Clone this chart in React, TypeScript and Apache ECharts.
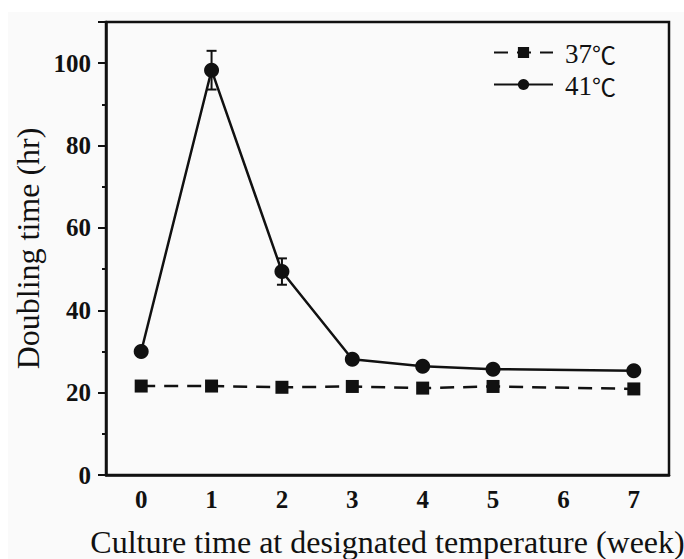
import React, { useEffect, useRef } from "react";
import * as echarts from "echarts";

const weeks = ["0", "1", "2", "3", "4", "5", "6", "7"];
const t37 = [21.6, 21.6, 21.3, 21.5, 21.1, 21.5, null, 20.9];
const t41 = [30.0, 98.3, 49.4, 28.1, 26.4, 25.7, null, 25.3];
const sd41 = [0, 4.7, 3.2, 0, 0, 0, 0, 0];
const yTicks = [0, 20, 40, 60, 80, 100];
const seriesNames = ["37℃", "41℃"];

const FONT = "'Liberation Serif', 'Times New Roman', serif";

export default function App() {
  const ref = useRef<HTMLDivElement>(null);
  useEffect(() => {
    if (!ref.current) return;
    const chart = echarts.init(ref.current, null, { renderer: "svg" });
    const errData: number[][] = [];
    sd41.forEach((sd, i) => {
      const m = t41[i];
      if (sd > 0 && m != null) errData.push([i, m - sd, m + sd]);
    });
    chart.setOption({
      animation: false,
      backgroundColor: "transparent",
      textStyle: { fontFamily: FONT },
      grid: {
        left: 106,
        top: 22,
        right: 15,
        bottom: 84,
        containLabel: false,
        outerBoundsMode: "none",
        show: true,
        borderColor: "#111",
        borderWidth: 2.5,
        backgroundColor: "transparent",
      },
      legend: {
        data: seriesNames,
        orient: "vertical",
        left: 488,
        top: 34,
        itemWidth: 59,
        itemHeight: 14,
        itemGap: 5,
        formatter: () => " ",
        textStyle: { fontSize: 27, lineHeight: 27, color: "#111" },
      },
      graphic: seriesNames.map((name, i) => ({
        type: "text",
        left: 565,
        top: 40 + i * 32,
        style: {
          text: `{n|${name.replace("℃", "")}}{c|℃}`,
          rich: {
            n: { fontFamily: FONT, fontSize: 27, fill: "#111", lineHeight: 27 },
            c: { fontFamily: "'Noto Sans CJK SC'", fontSize: 24, fill: "#111", lineHeight: 27 },
          },
        },
        z: 10,
      })),
      xAxis: [
        {
          type: "category",
          data: weeks,
          boundaryGap: true,
          position: "bottom",
          name: "Culture time at designated temperature (week)",
          nameLocation: "middle",
          nameGap: 51,
          nameMoveOverlap: false,
          nameTextStyle: { fontFamily: FONT, fontSize: 32, color: "#111", lineHeight: 32 },
          axisLine: { lineStyle: { color: "#111", width: 2.5 } },
          axisTick: {
            alignWithLabel: true,
            length: 8,
            lineStyle: { color: "#111", width: 2 },
          },
          axisLabel: {
            fontFamily: FONT,
            fontWeight: "bold",
            fontSize: 25,
            color: "#111",
            margin: 12,
          },
          splitLine: { show: false },
        },
        {
          type: "category",
          data: weeks,
          boundaryGap: true,
          position: "bottom",
          offset: 0,
          axisLine: { show: false },
          axisTick: {
            alignWithLabel: false,
            length: 5,
            lineStyle: { color: "#111", width: 2 },
          },
          axisLabel: { show: false },
          splitLine: { show: false },
        },
      ],
      yAxis: {
        type: "value",
        min: 0,
        max: 110,
        interval: 20,
        name: "Doubling time (hr)",
        nameLocation: "middle",
        nameGap: 62,
        nameMoveOverlap: false,
        nameTextStyle: { fontFamily: FONT, fontSize: 32, color: "#111", lineHeight: 32 },
        axisLine: { show: true, lineStyle: { color: "#111", width: 2.5 } },
        axisTick: { show: true, length: 8, lineStyle: { color: "#111", width: 2 } },
        minorTick: { show: true, splitNumber: 2, length: 4, lineStyle: { color: "#111", width: 2 } },
        axisLabel: {
          fontFamily: FONT,
          fontWeight: "bold",
          fontSize: 25,
          color: "#111",
          margin: 15,
          showMaxLabel: false,
          formatter: (v: number) => (yTicks.includes(v) ? String(v) : ""),
        },
        splitLine: { show: false },
      },
      series: [
        {
          name: seriesNames[0],
          type: "line",
          data: t37,
          connectNulls: true,
          symbol: "rect",
          symbolSize: 13,
          itemStyle: { color: "#111" },
          lineStyle: { color: "#111", width: 2.5, type: [14, 9] },
          z: 3,
        },
        {
          name: seriesNames[1],
          type: "line",
          data: t41,
          connectNulls: true,
          symbol: "circle",
          symbolSize: 15,
          itemStyle: { color: "#111" },
          lineStyle: { color: "#111", width: 2.5 },
          z: 3,
        },
        {
          type: "custom",
          name: "err41",
          data: errData,
          encode: { x: 0, y: [1, 2] },
          z: 4,
          renderItem: (params: any, api: any) => {
            const x = api.value(0);
            const lo = api.coord([x, api.value(1)]);
            const hi = api.coord([x, api.value(2)]);
            const w = 5;
            const st = { stroke: "#111", lineWidth: 2 };
            return {
              type: "group",
              children: [
                { type: "line", shape: { x1: lo[0], y1: lo[1], x2: hi[0], y2: hi[1] }, style: st },
                { type: "line", shape: { x1: hi[0] - w, y1: hi[1], x2: hi[0] + w, y2: hi[1] }, style: st },
                { type: "line", shape: { x1: lo[0] - w, y1: lo[1], x2: lo[0] + w, y2: lo[1] }, style: st },
              ],
            };
          },
        },
      ],
    });
    return () => chart.dispose();
  }, []);
  return (
    <div style={{ position: "absolute", left: 0, top: 0, width: 684, height: 559, background: "#fff" }}>
      <div style={{ position: "absolute", left: 8, top: 12, right: 0, bottom: 0, background: "#fafafa" }} />
      <div ref={ref} style={{ position: "absolute", left: 0, top: 0, width: 684, height: 559 }} />
    </div>
  );
}
